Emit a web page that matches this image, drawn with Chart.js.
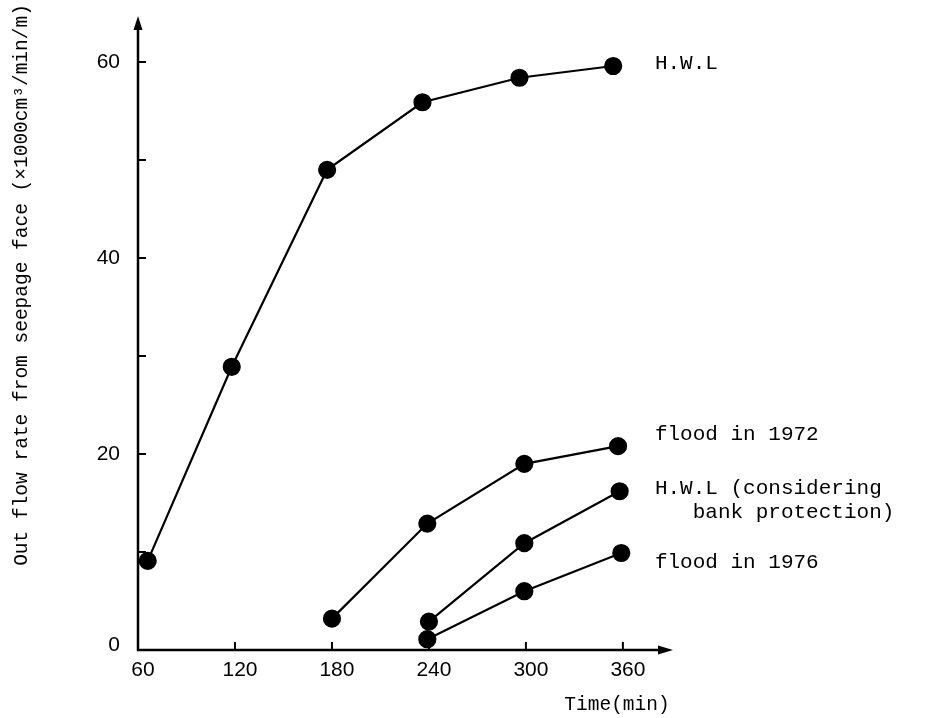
<!DOCTYPE html>
<html>
<head>
<meta charset="utf-8">
<script src="https://cdn.jsdelivr.net/npm/chart.js@4"></script>
<style>
  html, body { margin: 0; padding: 0; background: #fff; }
  #wrap { width: 949px; height: 718px; }
</style>
</head>
<body>
<div id="wrap"><canvas id="c" width="949" height="718"></canvas></div>
<script>
// Values (time in min, flow in x1000 cm3/min/m)
const hwlTime = [66, 118, 177, 236, 296, 354];
const hwlFlow = [9.1, 28.9, 49.0, 55.9, 58.4, 59.6];

const flood72Time = [180, 239, 299, 357];
const flood72Flow = [3.2, 12.9, 19.0, 20.8];

const bankTime = [240, 299, 358];
const bankFlow = [2.9, 10.9, 16.2];

const flood76Time = [239, 299, 359];
const flood76Flow = [1.1, 6.0, 9.9];

const xTickValues = [60, 120, 180, 240, 300, 360];
const yTickValues = [0, 10, 20, 30, 40, 50, 60];
const yLabelValues = [0, 20, 40, 60];

const seriesLabels = [
  ['H.W.L'],
  ['flood in 1972'],
  ['H.W.L (considering', '   bank protection)'],
  ['flood in 1976'],
];

const yTitle = 'Out flow rate from seepage face (\u00d71000cm\u00b3/min/m)';
const xTitle = 'Time(min)';

const MONO = '"Liberation Mono", "DejaVu Sans Mono", monospace';
const SANS = '"Liberation Sans", Arial, sans-serif';

function toPoints(xs, ys) {
  return xs.map((x, i) => ({ x, y: ys[i] }));
}

function series(xs, ys) {
  return {
    data: toPoints(xs, ys),
    showLine: true,
    borderColor: '#000',
    backgroundColor: '#000',
    borderWidth: 2.2,
    pointRadius: 8,
    pointHoverRadius: 8,
    clip: false,
  };
}

// draws axis lines, arrows, inward ticks, tick labels, titles and series labels
const paperAxes = {
  id: 'paperAxes',
  afterDatasetsDraw(chart) {
    const { ctx, chartArea: a, scales: { x, y } } = chart;
    const x0 = x.getPixelForValue(60);
    const y0 = y.getPixelForValue(0);
    ctx.save();
    ctx.strokeStyle = '#000';
    ctx.fillStyle = '#000';
    ctx.lineWidth = 2.5;

    // axes
    ctx.beginPath();
    ctx.moveTo(x0, a.top + 10);
    ctx.lineTo(x0, y0);
    ctx.lineTo(a.right - 10, y0);
    ctx.stroke();

    // arrow heads
    ctx.beginPath();
    ctx.moveTo(x0, a.top);
    ctx.lineTo(x0 - 4.5, a.top + 14);
    ctx.lineTo(x0 + 4.5, a.top + 14);
    ctx.closePath();
    ctx.fill();
    ctx.beginPath();
    ctx.moveTo(a.right, y0);
    ctx.lineTo(a.right - 15, y0 - 4.5);
    ctx.lineTo(a.right - 15, y0 + 4.5);
    ctx.closePath();
    ctx.fill();

    // ticks
    ctx.lineWidth = 2;
    ctx.beginPath();
    xTickValues.slice(1).forEach(v => {
      const px = x.getPixelForValue(v);
      ctx.moveTo(px, y0);
      ctx.lineTo(px, y0 - 8);
    });
    yTickValues.slice(1).forEach(v => {
      const py = y.getPixelForValue(v);
      ctx.moveTo(x0, py);
      ctx.lineTo(x0 + 8, py);
    });
    ctx.stroke();

    // tick labels
    ctx.font = '21px ' + SANS;
    ctx.textBaseline = 'middle';
    ctx.textAlign = 'center';
    xTickValues.forEach(v => {
      ctx.fillText(String(v), x.getPixelForValue(v) + 5, y0 + 20);
    });
    ctx.textAlign = 'right';
    yLabelValues.forEach(v => {
      const py = y.getPixelForValue(v) - (v === 0 ? 5 : 0);
      ctx.fillText(String(v), x0 - 18, py);
    });

    // titles
    ctx.font = '19.5px ' + MONO;
    ctx.textAlign = 'center';
    ctx.fillText(xTitle, 617, 705);
    ctx.save();
    ctx.translate(22, 285);
    ctx.rotate(-Math.PI / 2);
    ctx.fillText(yTitle, 0, 0);
    ctx.restore();

    // series labels next to last points
    const offsets = [-3, -12, -3, 9];
    ctx.font = '21px ' + MONO;
    ctx.textAlign = 'left';
    chart.data.datasets.forEach((ds, i) => {
      const last = ds.data[ds.data.length - 1];
      const py = y.getPixelForValue(last.y) + offsets[i];
      const px = x.getPixelForValue(360) + 32;
      seriesLabels[i].forEach((line, j) => {
        ctx.fillText(line, px, py + j * 24);
      });
    });
    ctx.restore();
  },
};

new Chart(document.getElementById('c'), {
  type: 'scatter',
  data: {
    datasets: [
      series(hwlTime, hwlFlow),
      series(flood72Time, flood72Flow),
      series(bankTime, bankFlow),
      series(flood76Time, flood76Flow),
    ],
  },
  options: {
    responsive: false,
    animation: false,
    layout: { padding: { left: 138, right: 276, top: 16, bottom: 68 } },
    plugins: { legend: { display: false }, tooltip: { enabled: false } },
    scales: {
      x: { type: 'linear', min: 60, max: 391, display: false },
      y: { type: 'linear', min: 0, max: 64.7, display: false },
    },
  },
  plugins: [paperAxes],
});
</script>
</body>
</html>
